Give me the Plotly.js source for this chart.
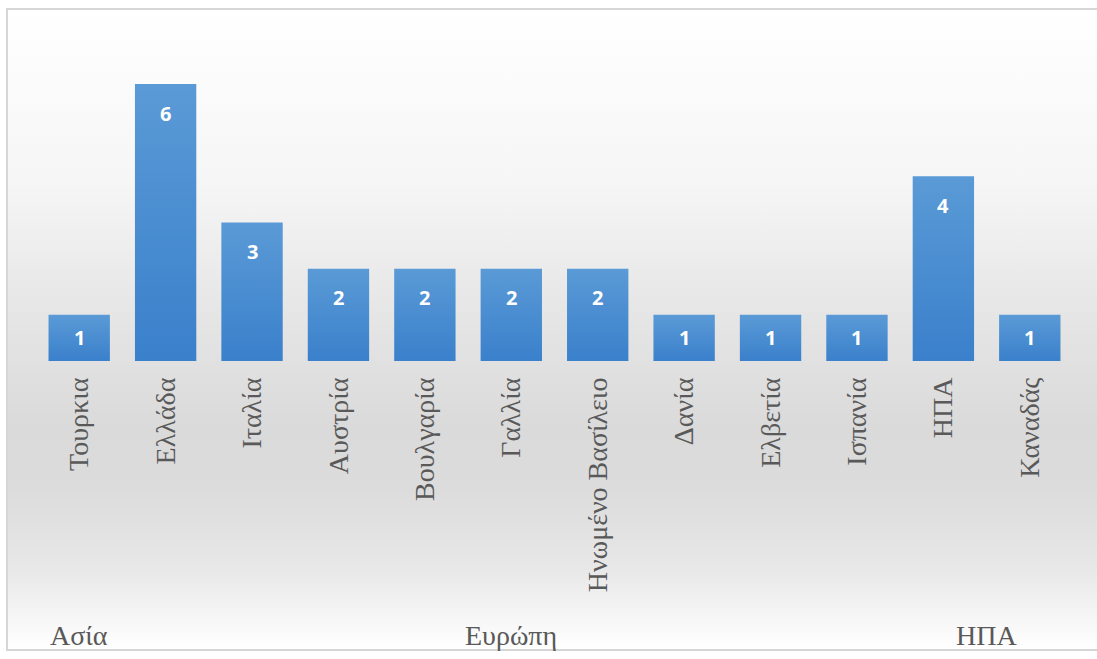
<!DOCTYPE html>
<html>
<head>
<meta charset="utf-8">
<script src="https://cdn.plot.ly/plotly-3.0.1.min.js"></script>
<style>
  html, body { margin: 0; padding: 0; background: #ffffff; }
  #frame {
    position: absolute; left: 6px; top: 8px; width: 1095px; height: 639px;
    border: 2px solid #d6d6d6; border-right: none;
    background: linear-gradient(to bottom, #ffffff 0px, #f6f6f6 170px, #e6e6e6 300px, #dadada 420px, #dcdcdc 480px, #e8e8e8 560px, #fbfbfb 625px, #ffffff 639px);
  }
  #chart { position: absolute; left: 0; top: 0; width: 1097px; height: 659px; }
</style>
</head>
<body>
<div id="frame"></div>
<div id="chart"></div>
<script>
// ---- data ----
var countries = ['Τουρκια', 'Ελλάδα', 'Ιταλία', 'Αυστρία', 'Βουλγαρία', 'Γαλλία',
                 'Ηνωμένο Βασίλειο', 'Δανία', 'Ελβετία', 'Ισπανία', 'ΗΠΑ', 'Καναδάς'];
var values = [1, 6, 3, 2, 2, 2, 2, 1, 1, 1, 4, 1];
var regions = ['Ασία', 'Ευρώπη', 'Ευρώπη', 'Ευρώπη', 'Ευρώπη', 'Ευρώπη',
               'Ευρώπη', 'Ευρώπη', 'Ευρώπη', 'Ευρώπη', 'ΗΠΑ', 'ΗΠΑ'];
var regionNames = ['Ασία', 'Ευρώπη', 'ΗΠΑ'];

var trace = {
  type: 'bar',
  x: countries,
  y: values,
  marker: { color: '#4a8dd2', line: { width: 0 } },
  hoverinfo: 'x+y'
};

var annotations = [];
// value labels inside bars
values.forEach(function (v, i) {
  annotations.push({
    x: i, y: Math.max(v - 0.63, v / 2), xref: 'x', yref: 'y',
    text: String(v), showarrow: false, yanchor: 'middle',
    font: { family: 'Open Sans, Liberation Sans, sans-serif', size: 20, color: '#ffffff', weight: 'bold' }
  });
});
// region group labels
regionNames.forEach(function (name) {
  var idx = [];
  regions.forEach(function (r, i) { if (r === name) idx.push(i); });
  var center = (idx[0] + idx[idx.length - 1]) / 2;
  annotations.push({
    x: center, xref: 'x', y: -0.99, yref: 'paper',
    text: name, showarrow: false, yanchor: 'middle', xanchor: 'center',
    font: { family: 'Liberation Serif, serif', size: 28, color: '#595959' }
  });
});

var layout = {
  width: 1097, height: 659,
  margin: { l: 36, r: 24, t: 84, b: 298 },
  paper_bgcolor: 'rgba(0,0,0,0)',
  plot_bgcolor: 'rgba(0,0,0,0)',
  bargap: 0.29,
  showlegend: false,
  xaxis: {
    type: 'category',
    tickangle: -90,
    ticks: '',
    showline: false,
    showgrid: false,
    zeroline: false,
    ticklabelstandoff: 10,
    tickfont: { family: 'Liberation Serif, serif', size: 28, color: '#595959' }
  },
  yaxis: {
    range: [0, 6],
    visible: false,
    showgrid: false,
    zeroline: false
  },
  annotations: annotations
};

Plotly.newPlot('chart', [trace], layout, { displayModeBar: false, staticPlot: true }).then(function (gd) {
  // vertical gradient fill on bars (lighter top, darker bottom)
  var svg = gd.querySelector('svg.main-svg');
  var ns = 'http://www.w3.org/2000/svg';
  var defs = svg.querySelector('defs') || svg.insertBefore(document.createElementNS(ns, 'defs'), svg.firstChild);
  var grad = document.createElementNS(ns, 'linearGradient');
  grad.setAttribute('id', 'barGrad');
  grad.setAttribute('x1', '0'); grad.setAttribute('y1', '0');
  grad.setAttribute('x2', '0'); grad.setAttribute('y2', '1');
  [['0%', '#5a9ad6'], ['100%', '#3a80cb']].forEach(function (s) {
    var st = document.createElementNS(ns, 'stop');
    st.setAttribute('offset', s[0]); st.setAttribute('stop-color', s[1]);
    grad.appendChild(st);
  });
  defs.appendChild(grad);
  gd.querySelectorAll('.barlayer .point path').forEach(function (p) {
    p.style.fill = 'url(#barGrad)';
  });
});
</script>
</body>
</html>
